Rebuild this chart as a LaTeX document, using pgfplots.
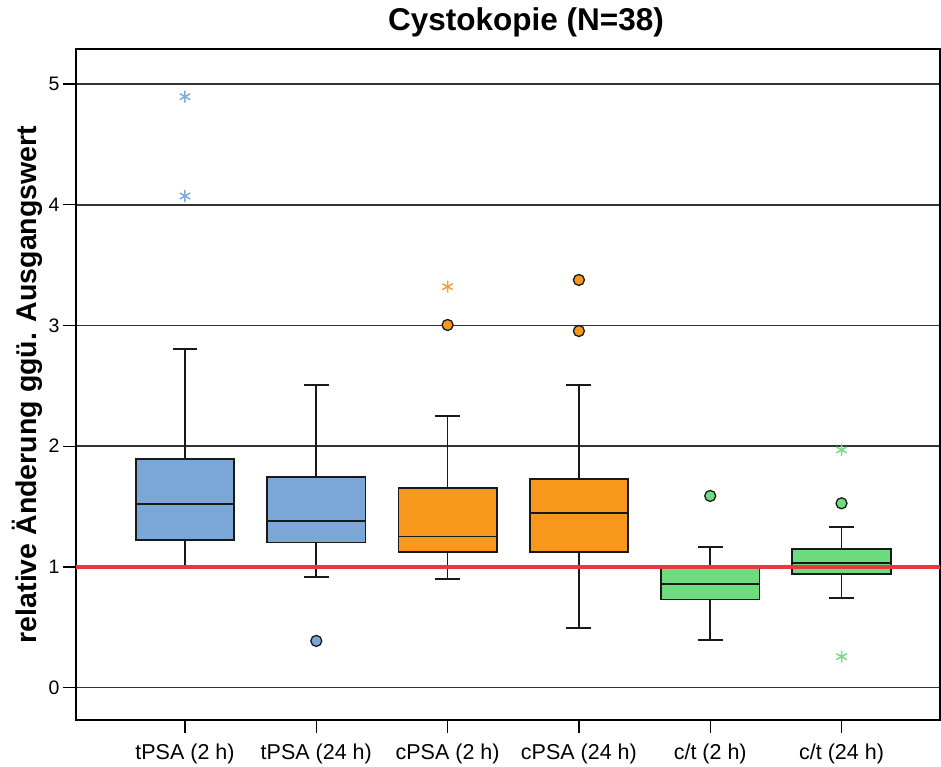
\documentclass[border=0pt]{standalone}
\usepackage{fontspec}
\setmainfont{Liberation Sans}
\usepackage{pgfplots}
\pgfplotsset{compat=1.18}
\usepgfplotslibrary{statistics}
\definecolor{bluebox}{HTML}{7BA7D7}
\definecolor{bluestar}{HTML}{80ABD9}
\definecolor{orangebox}{HTML}{F7981D}
\definecolor{orangestar}{HTML}{EFA23A}
\definecolor{greenbox}{HTML}{6EDC7E}
\definecolor{greenstar}{HTML}{7ADB88}
\definecolor{redline}{HTML}{E8383D}
\begin{document}
\begin{tikzpicture}
\begin{axis}[
  at={(0,0)}, anchor=south west,
  scale only axis,
  width=864pt, height=671pt,
  xmin=-0.83, xmax=5.75, ymin=-0.268, ymax=5.29,
  xtick={0,1,2,3,4,5},
  xticklabels={tPSA (2 h), tPSA (24 h), cPSA (2 h), cPSA (24 h), c/t (2 h), c/t (24 h)},
  ytick={0,1,2,3,4,5},
  tick align=outside, tick pos=left,
  major tick length=13pt,
  major tick style={black, line width=1.3pt},
  axis line style={black, line width=1.6pt},
  ymajorgrids, major grid style={black!80, line width=1.7pt},
  /pgf/number format/assume math mode=true,
  xticklabel style={font=\fontsize{21.5}{25}\selectfont, yshift=-7pt},
  yticklabel style={font=\fontsize{19.5}{23}\selectfont},
  title={Cystokopie (N=38)},
  title style={font=\fontsize{31.5}{37}\selectfont\bfseries, at={(axis description cs:0.5208,1)}, anchor=base, yshift=12pt},
  ylabel={relative Änderung ggü. Ausgangswert},
  ylabel style={font=\fontsize{28.5}{34}\selectfont\bfseries, at={(axis description cs:-0.0567,0.5)}, anchor=center},
  boxplot/draw direction=y,
  boxplot/box extend=0.75,
  boxplot/whisker extend=0.19,
  boxplot/every box/.style={draw=black!90, line width=1.7pt},
  boxplot/every whisker/.style={draw=black!90, line width=1.7pt},
  boxplot/every median/.style={draw=black!90, line width=1.7pt},
]
% tPSA (2 h)
\addplot[boxplot prepared={draw position=0, lower whisker=1.0, lower quartile=1.223, median=1.521, upper quartile=1.892, upper whisker=2.803}, draw=black!90, fill=bluebox] coordinates {};
% tPSA (24 h)
\addplot[boxplot prepared={draw position=1, lower whisker=0.914, lower quartile=1.201, median=1.383, upper quartile=1.743, upper whisker=2.507}, draw=black!90, fill=bluebox] coordinates {};
% cPSA (2 h)
\addplot[boxplot prepared={draw position=2, lower whisker=0.900, lower quartile=1.124, median=1.251, upper quartile=1.654, upper whisker=2.250}, draw=black!90, fill=orangebox] coordinates {};
% cPSA (24 h)
\addplot[boxplot prepared={draw position=3, lower whisker=0.494, lower quartile=1.124, median=1.444, upper quartile=1.729, upper whisker=2.507}, draw=black!90, fill=orangebox] coordinates {};
% c/t (2 h)
\addplot[boxplot prepared={draw position=4, lower whisker=0.395, lower quartile=0.729, median=0.856, upper quartile=0.995, upper whisker=1.163}, draw=black!90, fill=greenbox] coordinates {};
% c/t (24 h)
\addplot[boxplot prepared={draw position=5, lower whisker=0.740, lower quartile=0.942, median=1.035, upper quartile=1.149, upper whisker=1.333}, draw=black!90, fill=greenbox] coordinates {};
% reference line
\addplot[draw=redline, line width=4.5pt] coordinates {(-0.83,1) (5.75,1)};
% outliers (circles)
\addplot[only marks, mark=*, mark size=5.5pt, mark options={fill=bluebox, draw=black!90, line width=1.3pt}] coordinates {(1,0.387)};
\addplot[only marks, mark=*, mark size=5.5pt, mark options={fill=orangebox, draw=black!90, line width=1.3pt}] coordinates {(2,3.004) (3,3.377) (3,2.954)};
\addplot[only marks, mark=*, mark size=5.5pt, mark options={fill=greenbox, draw=black!90, line width=1.3pt}] coordinates {(4,1.588) (5,1.527)};
% extreme values (stars)
\addplot[only marks, mark=asterisk, mark size=6pt, mark options={draw=bluestar, line width=1.5pt}] coordinates {(0,4.895) (0,4.072)};
\addplot[only marks, mark=asterisk, mark size=6pt, mark options={draw=orangestar, line width=1.5pt}] coordinates {(2,3.321)};
\addplot[only marks, mark=asterisk, mark size=6pt, mark options={draw=greenstar, line width=1.5pt}] coordinates {(5,1.969) (5,0.257)};
\end{axis}
\path (-76pt,-47pt) rectangle (865pt,720pt);
\end{tikzpicture}
\end{document}
